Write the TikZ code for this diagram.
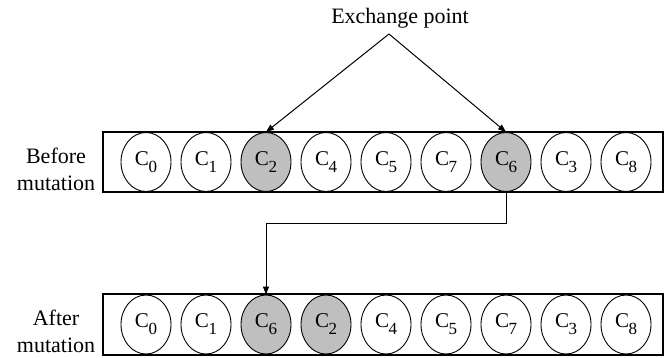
\documentclass[tikz,border=0pt]{standalone}
\usepackage{fontspec}
\setmainfont{Liberation Serif}
\usetikzlibrary{shapes.geometric,arrows.meta}
\definecolor{cellgray}{RGB}{191,191,191}
\newcommand{\cell}[1]{\fontsize{21}{21}\selectfont C\kern-0.5pt\raisebox{-7pt}{\fontsize{17}{17}\selectfont #1}}
\begin{document}
\begin{tikzpicture}[x=1pt,y=-1pt,
  gene/.style={ellipse,draw,line width=0.9pt,minimum width=50pt,minimum height=59pt,inner sep=0pt},
  hot/.style={gene,fill=cellgray},
  strip/.style={draw,line width=1.2pt,minimum width=560pt,inner sep=0pt},
  lbl/.style={align=center,font=\fontsize{22}{27}\selectfont},
  conn/.style={line width=1pt,-{Triangle[length=8pt,width=6pt]}}]
\useasboundingbox (0,0) rectangle (669,358);
% strips
\node[strip,minimum height=60pt] (top) at (383,162) {};
\node[strip,minimum height=61pt] (bot) at (383,324.5) {};
% labels
\node[lbl] (lb) at (56,169) {Before\\mutation};
\node[lbl] (la) at (56,331) {After\\mutation};
\node[font=\fontsize{22}{27}\selectfont,anchor=base] (ex) at (400,24) {Exchange point};
\coordinate (apex) at (389,34);
% top row
\node[gene] (t0) at (146,162) {\cell{0}};
\node[gene] (t1) at (206,162) {\cell{1}};
\node[hot]  (t2) at (266,162) {\cell{2}};
\node[gene] (t3) at (326,162) {\cell{4}};
\node[gene] (t4) at (386,162) {\cell{5}};
\node[gene] (t5) at (446,162) {\cell{7}};
\node[hot]  (t6) at (506,162) {\cell{6}};
\node[gene] (t7) at (566,162) {\cell{3}};
\node[gene] (t8) at (626,162) {\cell{8}};
% bottom row
\node[gene] (b0) at (146,324.5) {\cell{0}};
\node[gene] (b1) at (206,324.5) {\cell{1}};
\node[hot]  (b2) at (266,324.5) {\cell{6}};
\node[hot]  (b3) at (326,324.5) {\cell{2}};
\node[gene] (b4) at (386,324.5) {\cell{4}};
\node[gene] (b5) at (446,324.5) {\cell{5}};
\node[gene] (b6) at (506,324.5) {\cell{7}};
\node[gene] (b7) at (566,324.5) {\cell{3}};
\node[gene] (b8) at (626,324.5) {\cell{8}};
% arrows
\draw[conn] (apex) -- (t2.north);
\draw[conn] (apex) -- (t6.north);
\coordinate (bend) at (506,223);
\draw[conn] (t6.south) -- (bend) -| (b2.north);
\end{tikzpicture}
\end{document}
